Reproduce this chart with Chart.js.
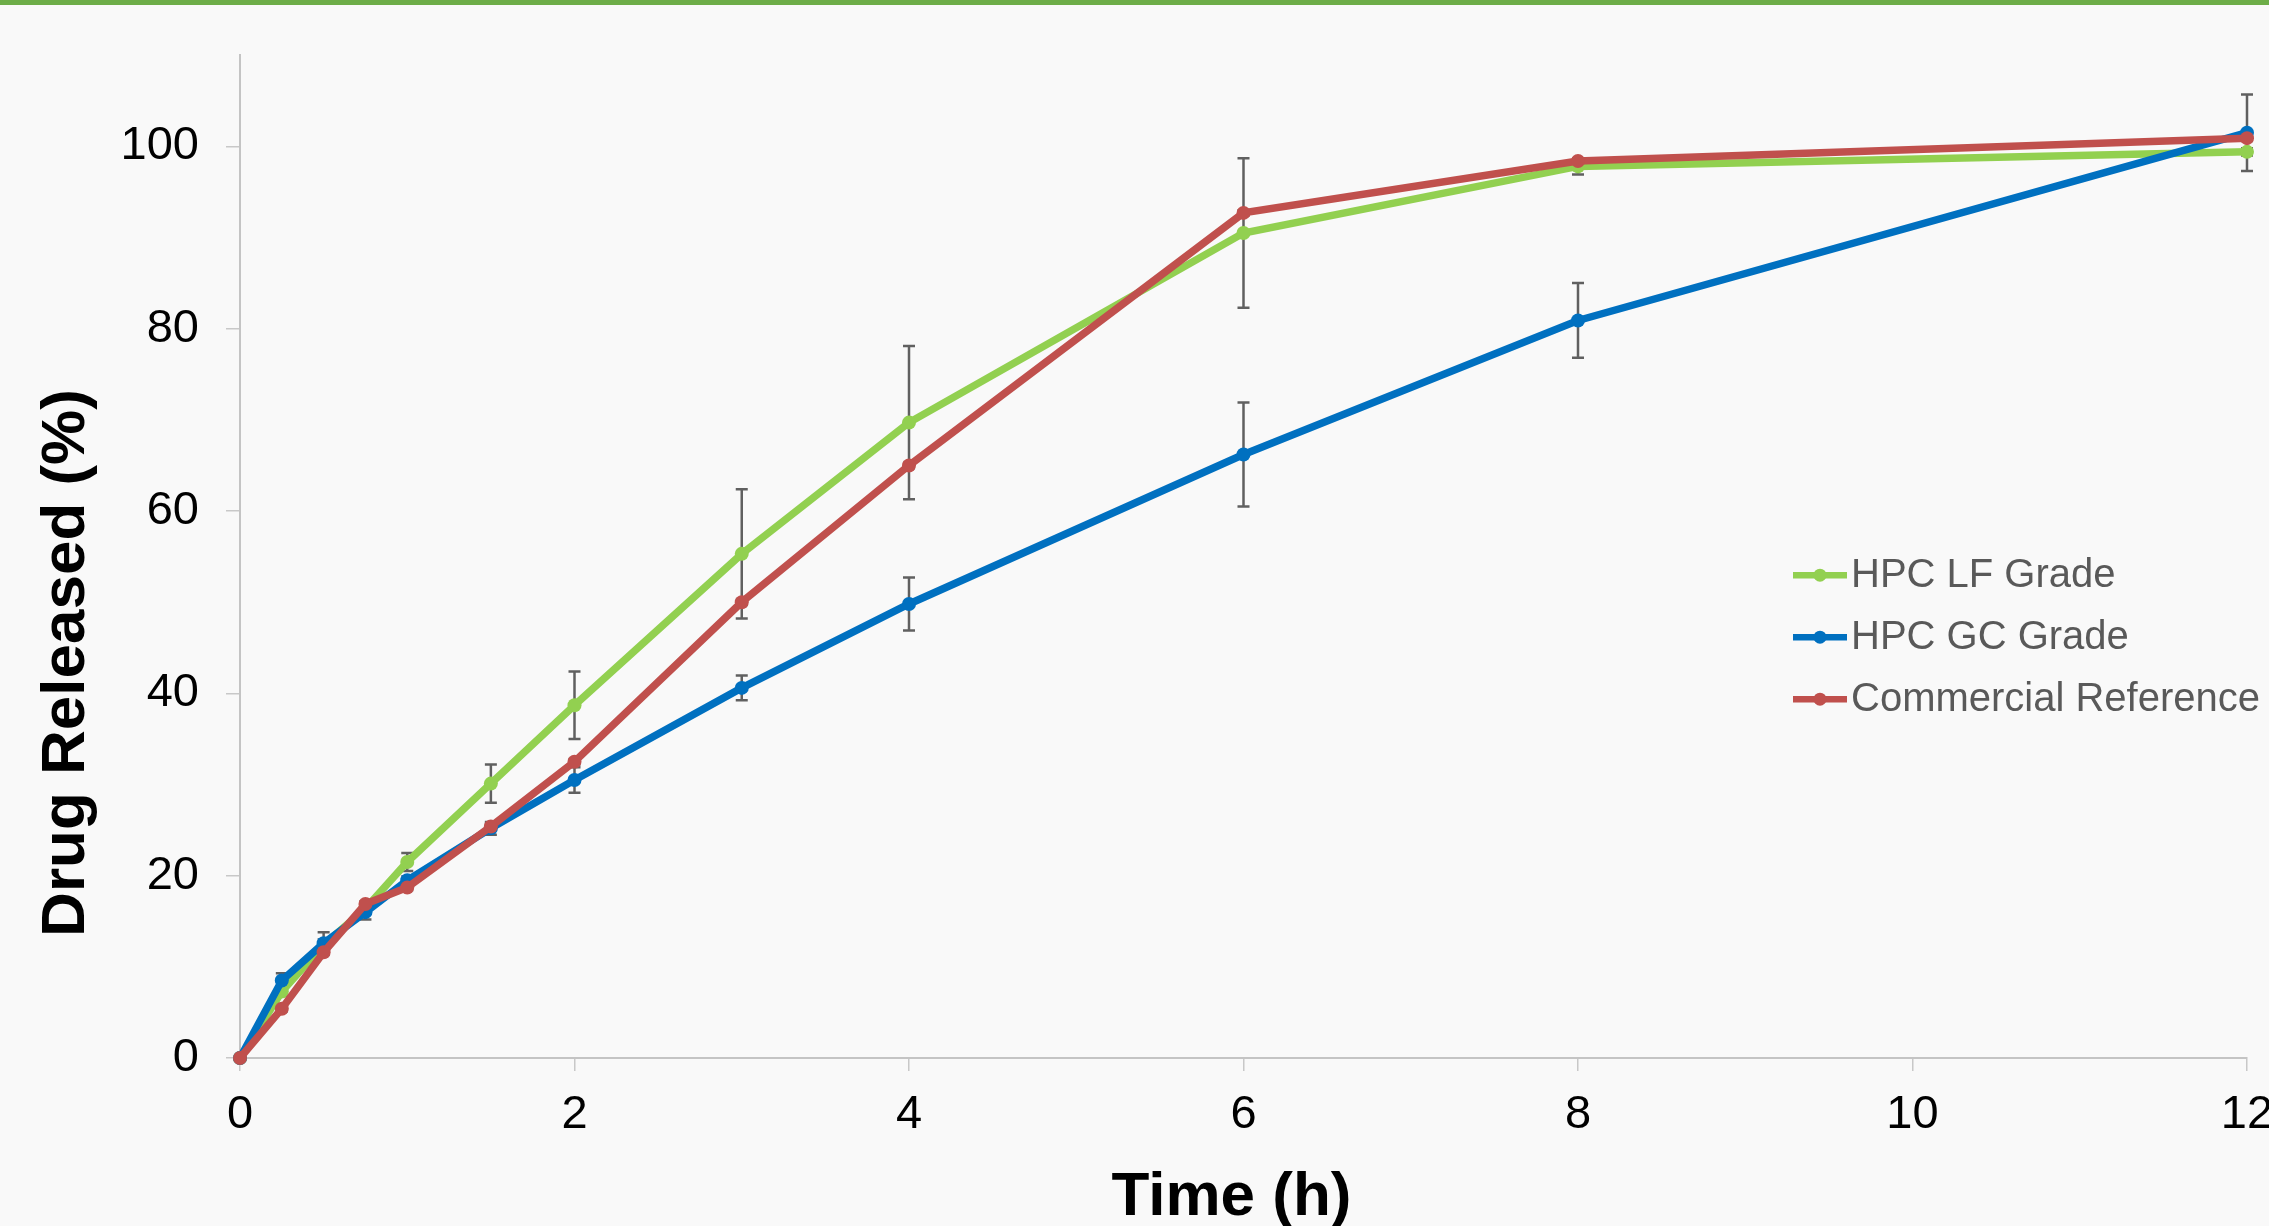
<!DOCTYPE html>
<html>
<head>
<meta charset="utf-8">
<script src="https://cdn.jsdelivr.net/npm/chart.js@4.4.0/dist/chart.umd.min.js"></script>
<style>
  html, body { margin: 0; padding: 0; background: #f9f9f9; overflow: hidden; }
  #topbar { position: absolute; left: 0; top: 0; width: 100%; height: 5px; background: #6dad48; z-index: 2; }
  #wrap { position: absolute; left: 0; top: 0; width: 2290px; height: 1226px; }
</style>
</head>
<body>
<div id="topbar"></div>
<div id="wrap"><canvas id="releaseChart"></canvas></div>
<script>
Chart.defaults.font.family = "'Liberation Sans', Arial, sans-serif";

// sampling times (h)
const times = [0, 0.25, 0.5, 0.75, 1, 1.5, 2, 3, 4, 6, 8, 12];
const xTickValues = [0, 2, 4, 6, 8, 10, 12];
const yTickValues = [0, 20, 40, 60, 80, 100];

const seriesNames = ['HPC LF Grade', 'HPC GC Grade', 'Commercial Reference'];
const seriesColors = ['#92d050', '#0070c0', '#c0504d'];

// % released
const lfValues  = [0, 7.3, 12.4, 16.4, 21.5, 30.1, 38.7, 55.3, 69.7, 90.5, 97.8, 99.4];
const gcValues  = [0, 8.5, 12.6, 16.0, 19.5, 25.2, 30.5, 40.6, 49.8, 66.2, 80.9, 101.5];
const refValues = [0, 5.4, 11.6, 16.9, 18.7, 25.4, 32.5, 50.0, 65.0, 92.7, 98.4, 100.9];

// +/- error bars
const lfErrors  = [0, 0.5, 0.6, 0.5, 1.0, 2.1, 3.7, 7.1, 8.4, 8.2, 0.9, 0.4];
const gcErrors  = [0, 0.8, 1.2, 0.8, 0.4, 0.7, 1.4, 1.35, 2.9, 5.7, 4.1, 4.2];
const refErrors = [0, 0.3, 0.3, 0.3, 0.3, 0.4, 0.3, 0.3, 0.3, 0.3, 0.3, 0.3];

const allValues = [lfValues, gcValues, refValues];
const allErrors = [lfErrors, gcErrors, refErrors];

function makeSet(i) {
  return {
    label: seriesNames[i],
    data: times.map((t, k) => ({x: t, y: allValues[i][k]})),
    borderColor: seriesColors[i],
    backgroundColor: seriesColors[i],
    pointBackgroundColor: seriesColors[i],
    borderWidth: 7.5,
    pointRadius: 7,
    pointBorderWidth: 0,
    tension: 0,
    clip: false,
    order: 3 - i
  };
}

const errorBars = {
  id: 'errorBars',
  beforeDatasetsDraw(chart) {
    const {ctx} = chart;
    const xs = chart.scales.x, ys = chart.scales.y;
    ctx.save();
    ctx.strokeStyle = '#606060';
    ctx.lineWidth = 2.5;
    allErrors.forEach((errs, i) => {
      times.forEach((t, k) => {
        if (!errs[k]) return;
        const px = xs.getPixelForValue(t);
        const top = ys.getPixelForValue(allValues[i][k] + errs[k]);
        const bot = ys.getPixelForValue(allValues[i][k] - errs[k]);
        ctx.beginPath();
        ctx.moveTo(px, top); ctx.lineTo(px, bot);
        ctx.moveTo(px - 6, top); ctx.lineTo(px + 6, top);
        ctx.moveTo(px - 6, bot); ctx.lineTo(px + 6, bot);
        ctx.stroke();
      });
    });
    ctx.restore();
  }
};

// axis titles: placed like in the original (y title sits below the middle)
const axisTitles = {
  id: 'axisTitles',
  afterDraw(chart) {
    const {ctx, chartArea} = chart;
    ctx.save();
    ctx.font = "bold 62px 'Liberation Sans', Arial, sans-serif";
    ctx.fillStyle = '#000';
    ctx.textAlign = 'center';
    ctx.textBaseline = 'middle';
    ctx.fillText('Time (h)', (chartArea.left + chartArea.right) / 2 - 12, chartArea.bottom + 140);
    ctx.translate(chartArea.left - 173, chartArea.bottom - 395);
    ctx.rotate(-Math.PI / 2);
    ctx.fillText('Drug Released (%)', 0, 0);
    ctx.restore();
  }
};

// line + marker legend, inside the plot on the right
const lineLegend = {
  id: 'lineLegend',
  afterDraw(chart) {
    const {ctx, chartArea} = chart;
    const x0 = chartArea.right - 454;
    ctx.save();
    ctx.font = "40px 'Liberation Sans', Arial, sans-serif";
    ctx.textBaseline = 'middle';
    ctx.textAlign = 'left';
    chart.data.datasets.forEach((ds, i) => {
      const yy = chartArea.top + 520 + i * 62;
      ctx.strokeStyle = ds.borderColor;
      ctx.lineWidth = 6.5;
      ctx.beginPath();
      ctx.moveTo(x0, yy);
      ctx.lineTo(x0 + 54, yy);
      ctx.stroke();
      ctx.fillStyle = ds.borderColor;
      ctx.beginPath();
      ctx.arc(x0 + 27, yy, 6.5, 0, Math.PI * 2);
      ctx.fill();
      ctx.fillStyle = '#595959';
      ctx.fillText(ds.label, x0 + 58, yy + 1);
    });
    ctx.restore();
  }
};

const chart = new Chart(document.getElementById('releaseChart'), {
  type: 'line',
  data: {
    datasets: [makeSet(0), makeSet(1), makeSet(2)]
  },
  options: {
    responsive: true,
    maintainAspectRatio: false,
    animation: false,
    layout: { padding: { top: 53, right: 43, left: 0, bottom: 0 } },
    plugins: {
      legend: { display: false },
      tooltip: { enabled: false }
    },
    scales: {
      x: {
        type: 'linear',
        min: 0,
        max: 12,
        afterBuildTicks: s => { s.ticks = xTickValues.map(v => ({value: v})); },
        afterFit: s => { s.height = 168; },
        grid: { drawOnChartArea: false, drawTicks: true, tickLength: 13, color: '#c8c8c8', lineWidth: 1.5 },
        border: { display: true, color: '#c4c4c4', width: 2 },
        ticks: { font: { size: 47 }, color: '#000', padding: 16, maxRotation: 0 }
      },
      y: {
        type: 'linear',
        min: 0,
        max: 110,
        afterBuildTicks: s => { s.ticks = yTickValues.map(v => ({value: v})); },
        afterFit: s => { s.width = 240; },
        grid: { drawOnChartArea: false, drawTicks: true, tickLength: 14, color: '#c8c8c8', lineWidth: 1.5 },
        border: { display: true, color: '#c4c4c4', width: 2 },
        ticks: { font: { size: 47 }, color: '#000', padding: 27 }
      }
    }
  },
  plugins: [errorBars, axisTitles, lineLegend]
});
</script>
</body>
</html>
